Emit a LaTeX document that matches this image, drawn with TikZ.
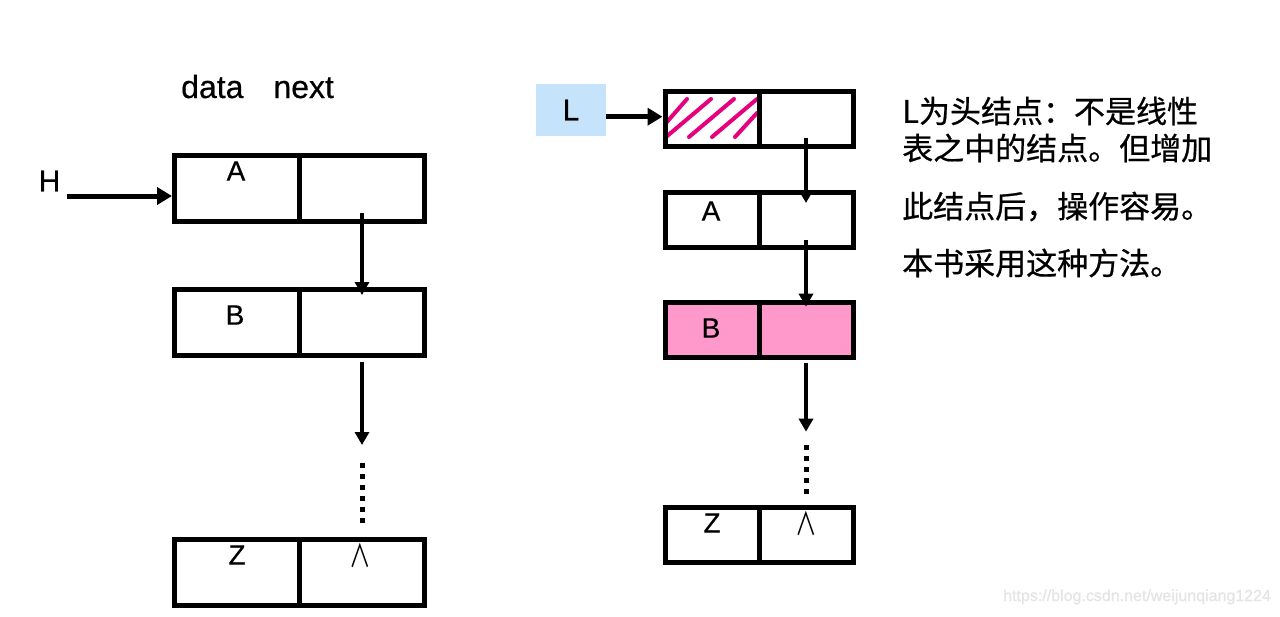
\documentclass[tikz,border=0pt]{standalone}
\usepackage{fontspec}
\setmainfont{Liberation Sans}[FakeBold=0.5]
\newfontfamily\cjkfont[FakeBold=0.6]{Noto Sans CJK SC}
\newfontfamily\nilfont{Noto Sans CJK SC}
\usetikzlibrary{arrows.meta}
\definecolor{headblue}{RGB}{197,227,251}
\definecolor{nodepink}{RGB}{255,153,204}
\definecolor{hatchpink}{RGB}{230,0,126}
\definecolor{markgray}{RGB}{228,228,228}

\begin{document}
\begin{tikzpicture}[x=1pt,y=-1pt,
  fieldL/.style={draw, line width=5pt, minimum width=125pt, minimum height=66pt, inner sep=0pt},
  fieldR/.style={draw, line width=5pt, minimum width=94pt, minimum height=55pt, inner sep=0pt},
  letter/.style={font=\fontsize{28}{30}\selectfont, inner sep=0pt},
  nil/.style={font=\nilfont\fontsize{30}{32}\selectfont, inner sep=0pt},
  link/.style={line width=3.5pt, -{Triangle[length=13pt,width=14pt]}},
  entry/.style={line width=5pt, -{Triangle[length=15pt,width=17pt]}},
  dots/.style={line width=5pt, dash pattern=on 5pt off 6pt},
  note/.style={font=\cjkfont\fontsize{31}{33}\selectfont, anchor=west, inner sep=0pt}
]
\fill[white] (0,0) rectangle (1280,616);
\useasboundingbox (0,0) rectangle (1280,616);

% ---------- list without head node ----------
\node[font=\fontsize{32}{34}\selectfont, anchor=base west, inner sep=0pt] (hdr) at (181,98) {data\hspace{30pt}next};
\node[font=\fontsize{30}{32}\selectfont, inner sep=0pt] (H) at (49.5,181) {H};

\node[fieldL] (dA) at (237,188.5) {};
\node[fieldL] (nA) at (362,188.5) {};
\node[fieldL] (dB) at (237,322) {};
\node[fieldL] (nB) at (362,322) {};
\node[fieldL] (dZ) at (237,572) {};
\node[fieldL] (nZ) at (362,572) {};

\node[letter] (tA) at (236,171) {A};
\node[letter] (tB) at (235,315) {B};
\node[letter] (tZ) at (237,555) {Z};
\node[nil] (tN) at (360,555.5) {\scalebox{0.72}[1.05]{∧}};

\coordinate (Hout) at ([xshift=6pt,yshift=-15pt]H.east);
\draw[entry] (Hout) -- (Hout -| dA.west);
\draw[link] ([yshift=-24.5pt]nA.center) -- ([yshift=-8.5pt]nB.north);
\coordinate (gapL) at ([yshift=-87.5pt]nB.south);
\draw[link] ([yshift=-4.5pt]nB.south) -- (gapL);
\draw[dots] ([yshift=-18pt]gapL) -- ([yshift=8pt]nZ.north);

% ---------- list with head node ----------
\begin{scope}[hatchpink, line width=4pt, line cap=round]
  \draw (666,123) -- (687,99);
  \draw (666,137) -- (711,99);
  \draw (689,137) -- (734,99);
  \draw (712,137) -- (757,99);
  \draw (735,137) -- (757,113);
\end{scope}

\node[fill=headblue, minimum width=70pt, minimum height=52pt, inner sep=0pt,
      font=\fontsize{30}{32}\selectfont] (L) at (571,110) {L};

\node[fieldR] (hd) at (712,119) {};
\node[fieldR] (hn) at (806,119) {};
\node[fieldR] (rdA) at (712,220) {};
\node[fieldR] (rnA) at (806,220) {};
\node[fieldR, fill=nodepink] (rdB) at (712,330) {};
\node[fieldR, fill=nodepink] (rnB) at (806,330) {};
\node[fieldR] (rdZ) at (712,535) {};
\node[fieldR] (rnZ) at (806,535) {};

\node[letter] (rtA) at (711,211) {A};
\node[letter] (rtB) at (711,328) {B};
\node[letter] (rtZ) at (712,523) {Z};
\node[nil] (rtN) at (806,524) {\scalebox{0.72}[1.05]{∧}};

\coordinate (Lout) at ([yshift=-6.7pt]L.east);
\draw[entry] (Lout) -- (Lout -| hd.west);
\draw[link] ([yshift=-19pt]hn.center) -- ([yshift=-13pt]rnA.north);
\draw[link] ([yshift=-20pt]rnA.center) -- ([yshift=-6.7pt]rnB.north);
\coordinate (gapR) at ([yshift=-71.7pt]rnB.south);
\draw[link] ([yshift=-3pt]rnB.south) -- (gapR);
\draw[dots] ([yshift=-13.3pt]gapR) -- ([yshift=7pt]rnZ.north);

% ---------- notes ----------
\node[note] (n1) at (902,111) {L为头结点：不是线性};
\node[note] (n2) at (902,148) {表之中的结点。但增加};
\node[note] (n3) at (902,206.5) {此结点后，操作容易。};
\node[note] (n4) at (902,263) {本书采用这种方法。};

\node[font=\fontsize{16}{18}\selectfont, text=markgray, anchor=base west, inner sep=0pt]
  (wm) at (1003,601) {https://blog.csdn.net/weijunqiang1224};
\end{tikzpicture}
\end{document}
